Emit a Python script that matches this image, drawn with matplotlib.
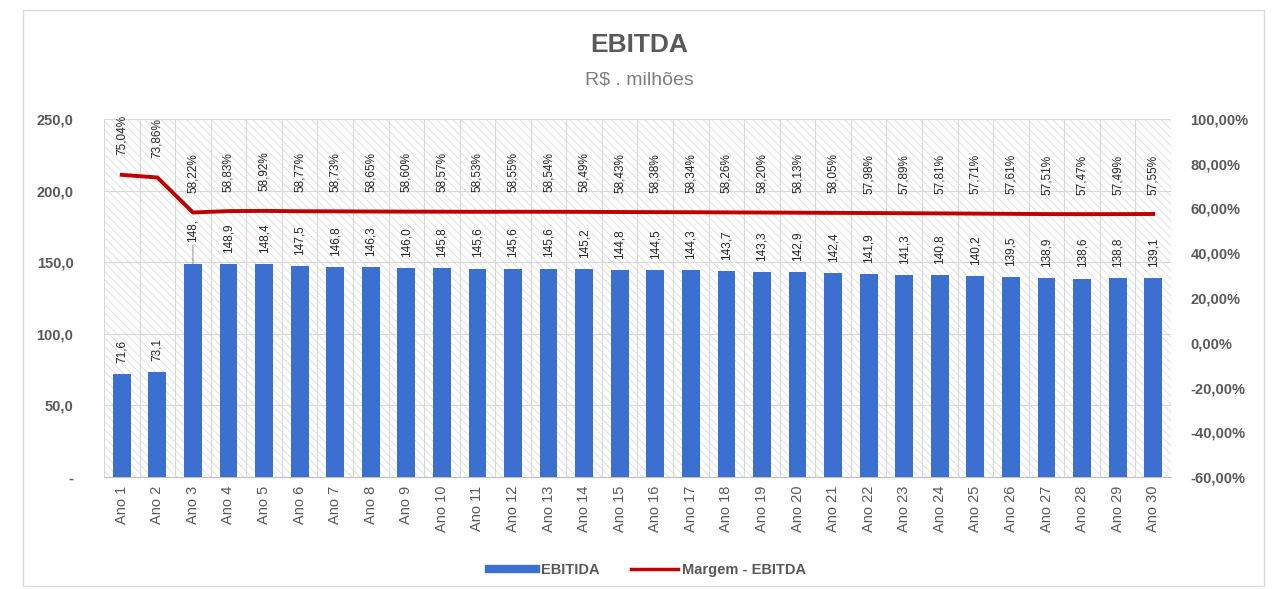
import matplotlib
matplotlib.use("Agg")
import matplotlib.pyplot as plt
from matplotlib.patches import Rectangle
from matplotlib.lines import Line2D
import numpy as np

anos = [f"Ano {i}" for i in range(1, 31)]
ebitda = [71.6, 73.1, 148.5, 148.9, 148.4, 147.5, 146.8, 146.3, 146.0, 145.8,
          145.6, 145.6, 145.6, 145.2, 144.8, 144.5, 144.3, 143.7, 143.3, 142.9,
          142.4, 141.9, 141.3, 140.8, 140.2, 139.5, 138.9, 138.6, 138.8, 139.1]
margem = [75.04, 73.86, 58.22, 58.83, 58.92, 58.77, 58.73, 58.65, 58.60, 58.57,
          58.53, 58.55, 58.54, 58.49, 58.43, 58.38, 58.34, 58.26, 58.20, 58.13,
          58.05, 57.98, 57.89, 57.81, 57.71, 57.61, 57.51, 57.47, 57.49, 57.55]

BLUE = '#3b6fd0'
RED = '#c00000'
GREY = '#595959'

plt.rcParams['font.family'] = ['Liberation Sans', 'DejaVu Sans']
plt.rcParams['hatch.linewidth'] = 0.5

fig = plt.figure(figsize=(12.78, 5.89), dpi=100)
# moldura externa
fig.patches.append(Rectangle((0.018, 0.005), 0.971, 0.978, transform=fig.transFigure,
                             fill=False, edgecolor='#d9d9d9', linewidth=1))

ax = fig.add_axes([104/1278, 1 - 477/589, (1171 - 104)/1278, (477 - 119)/589])
x = np.arange(len(anos))

ax.set_xlim(-0.5, len(anos) - 0.5)
ax.set_ylim(0, 250)
# fundo hachurado
ax.add_patch(Rectangle((-0.5, 0), len(anos), 250, facecolor='white', edgecolor='#d6d6d6',
                       linewidth=0, hatch='\\\\\\\\', zorder=0))

for b in np.arange(-0.5, len(anos), 1):
    ax.axvline(b, color='#d9d9d9', linewidth=0.8, zorder=1)
for t in [50, 100, 150, 200, 250]:
    ax.axhline(t, color='#d9d9d9', linewidth=0.8, zorder=1)

ax.bar(x, ebitda, width=0.5, color=BLUE, zorder=3)

bar_labels = [f"{v:.1f}".replace('.', ',') for v in ebitda]
bar_labels[2] = "148,"
for i, v in enumerate(ebitda):
    if i == 2:
        ax.annotate(bar_labels[i], xy=(i, v), xytext=(0, 16), textcoords='offset points',
                    rotation=90, ha='center', va='bottom', fontsize=8.5, color='#262626',
                    arrowprops=dict(arrowstyle='-', color='#7f7f7f', lw=0.6,
                                    shrinkA=0, shrinkB=0))
    else:
        ax.annotate(bar_labels[i], xy=(i, v), xytext=(0, 8), textcoords='offset points',
                    rotation=90, ha='center', va='bottom', fontsize=8.5, color='#262626')

ax.set_yticks([0, 50, 100, 150, 200, 250])
ax.set_yticklabels(['-', '50,0', '100,0', '150,0', '200,0', '250,0'])
ax.set_xticks(x)
ax.set_xticklabels(anos, rotation=90)
ax.tick_params(axis='y', length=0, pad=22, labelsize=10.5, labelcolor=GREY)
ax.tick_params(axis='x', length=0, pad=6, labelsize=10.5, labelcolor=GREY)
for lab in ax.get_yticklabels():
    lab.set_fontweight('bold')
for s in ax.spines.values():
    s.set_visible(False)
ax.spines['bottom'].set_visible(True)
ax.spines['bottom'].set_color('#bfbfbf')

ax2 = ax.twinx()
ax2.set_ylim(-60, 100)
ax2.plot(x, margem, color=RED, linewidth=2.8, zorder=4)
for i, m in enumerate(margem):
    ax2.annotate(f"{m:.2f}%".replace('.', ','), xy=(i, m), xytext=(0, 14),
                 textcoords='offset points', rotation=90, ha='center', va='bottom',
                 fontsize=8.5, color='#262626')
ticks2 = np.arange(-60, 101, 20)
ax2.set_yticks(ticks2)
ax2.set_yticklabels([f"{t:.2f}%".replace('.', ',') for t in ticks2])
ax2.tick_params(axis='y', length=0, pad=14, labelsize=10.5, labelcolor=GREY)
for lab in ax2.get_yticklabels():
    lab.set_fontweight('bold')
for s in ax2.spines.values():
    s.set_visible(False)

fig.text(0.5, 1 - 45/589, 'EBITDA', ha='center', va='center', fontsize=19,
         fontweight='bold', color='#595959')
fig.text(0.5, 1 - 80/589, 'R$ . milhões', ha='center', va='center', fontsize=14,
         color='#7f7f7f')

handles = [Line2D([0], [0], color=BLUE, linewidth=6),
           Line2D([0], [0], color=RED, linewidth=2.5)]
leg = fig.legend(handles, ['EBITIDA', 'Margem - EBITDA'], loc='center',
                 bbox_to_anchor=(0.507, 1 - 570/589), ncol=2, frameon=False,
                 fontsize=10.5, handlelength=3.2, handletextpad=0.3, columnspacing=2.2)
for t in leg.get_texts():
    t.set_color(GREY)
    t.set_fontweight('bold')

fig.savefig('out.png', dpi=100)
